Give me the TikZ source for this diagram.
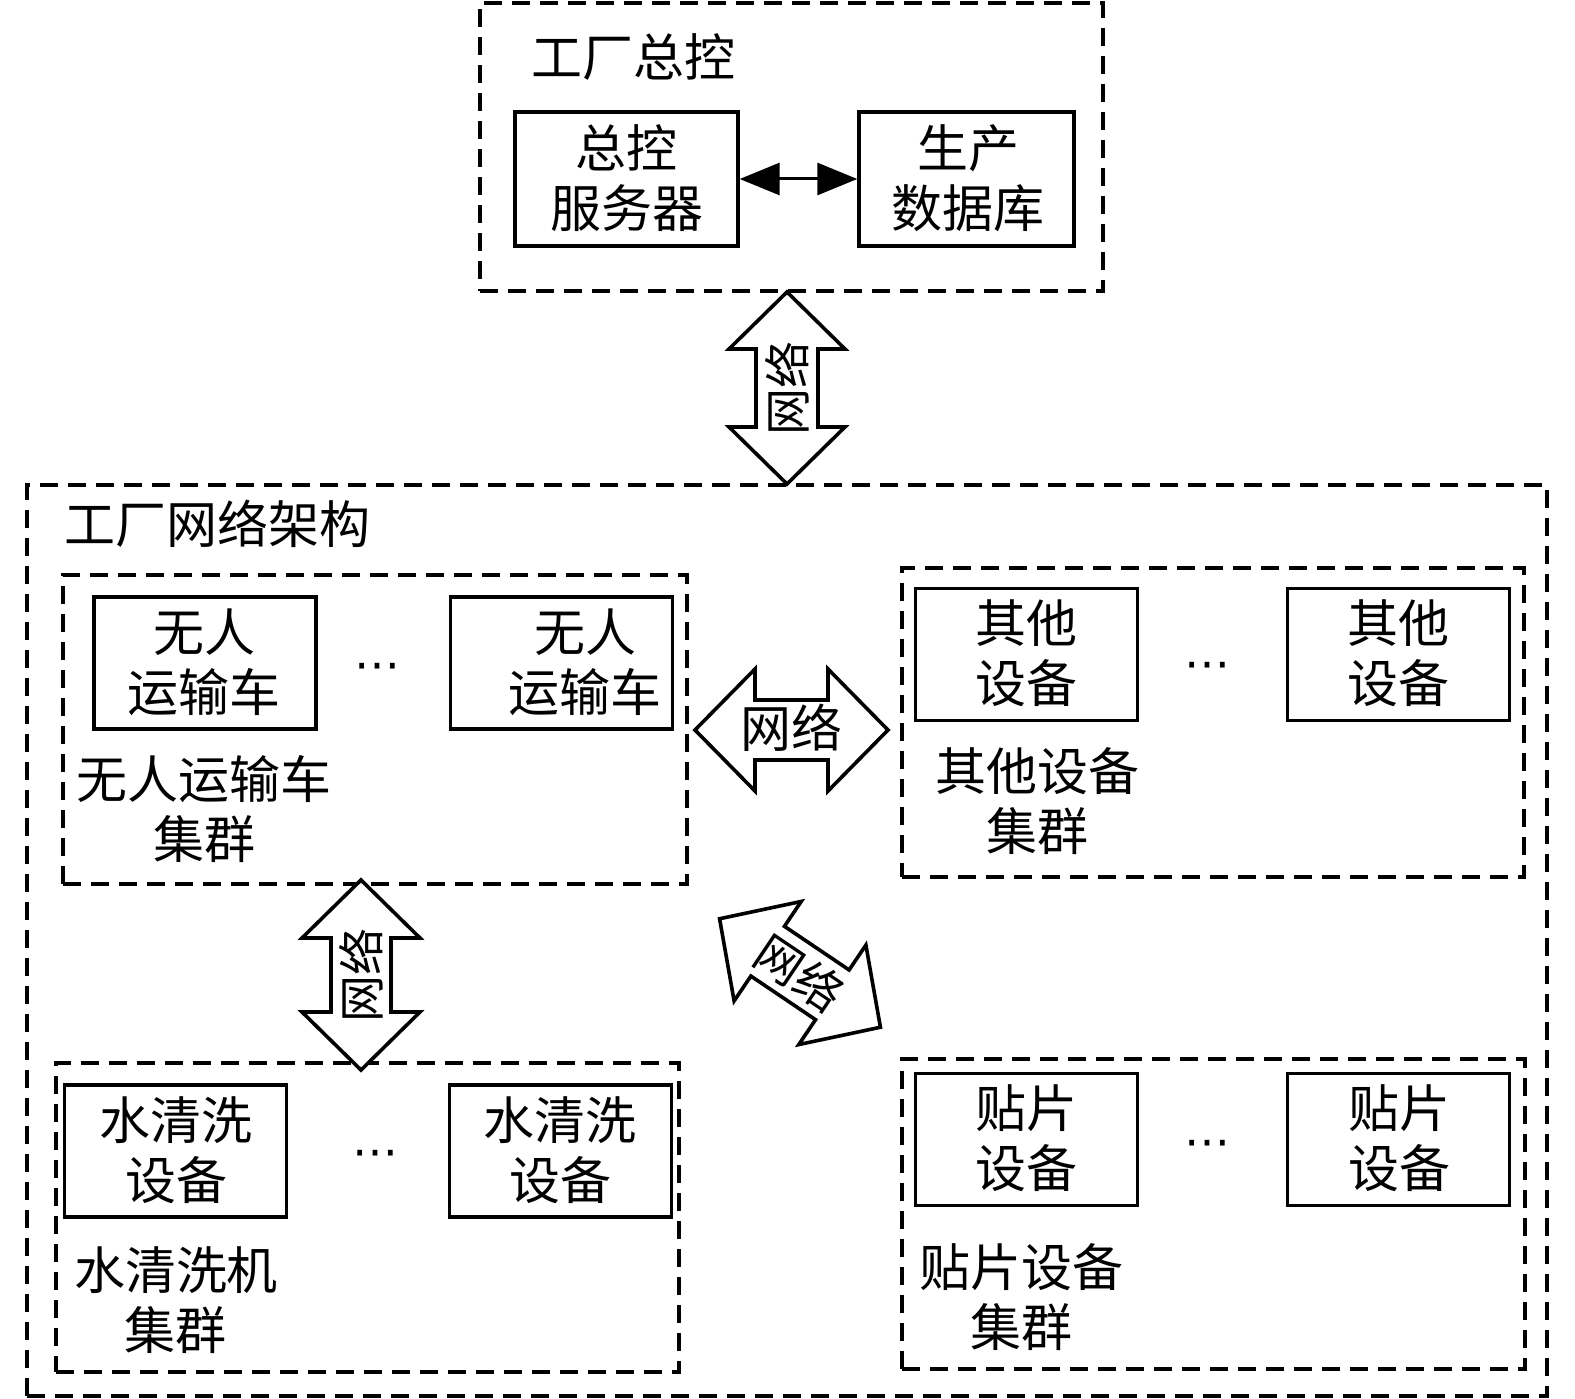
\documentclass[tikz,border=0pt]{standalone}
\usepackage{fontspec}
\setmainfont{Noto Sans CJK SC}
\newfontfamily\symfnt{DejaVu Sans}
\usetikzlibrary{arrows.meta}
\begin{document}
\begin{tikzpicture}[x=1pt,y=-1pt,
  dashbox/.style={draw, line width=3.2pt, dash pattern=on 18pt off 10pt, inner sep=0pt},
  devbox/.style={draw, line width=3.4pt, minimum width=222pt, minimum height=132pt, inner sep=0pt},
  txt/.style={font=\fontsize{51}{60}\selectfont, align=center, inner sep=0pt},
  arrtxt/.style={font=\fontsize{47}{56}\selectfont, align=center, inner sep=0pt},
  dots/.style={font=\symfnt\fontsize{46}{48}\selectfont, inner sep=0pt},
  bigarrow/.style={draw, line width=3.6pt, line join=miter, fill=white},
  pics/dblarrow/.style n args={4}{code={
    \draw[bigarrow] (-#1,0) -- (-#1+#2,-#3) -- (-#1+#2,-#4) -- (#1-#2,-#4) -- (#1-#2,-#3) -- (#1,0)
      -- (#1-#2,#3) -- (#1-#2,#4) -- (-#1+#2,#4) -- (-#1+#2,#3) -- cycle;}},
  ]
\useasboundingbox (0,0) rectangle (1575,1399);

% top frame
\node[dashbox, minimum width=623pt, minimum height=288pt] (topf) at (791.5,147) {};
\node[txt] (toplbl) at (633,57) {工厂总控};
\node[devbox, minimum width=223pt, minimum height=134pt] (srv) at (626.5,179) {};
\node[txt] (srvt) at (626.5,178) {总控\\服务器};
\node[devbox, minimum width=215pt, minimum height=134pt] (db) at (966.5,179) {};
\node[txt] (dbt) at (968,178) {生产\\数据库};
\draw[line width=3pt, {Triangle[length=40pt,width=32pt]}-{Triangle[length=40pt,width=32pt]}] (srv.east) -- (db.west);

% outer frame
\node[dashbox, minimum width=1520pt, minimum height=911pt] (outer) at (787,940.5) {};
\node[txt] (outlbl) at (217,524) {工厂网络架构};

% clusters
\node[dashbox, minimum width=624pt, minimum height=309pt] (ctl) at (375,729.5) {};
\node[dashbox, minimum width=622pt, minimum height=309pt] (ctr) at (1213,722.5) {};
\node[dashbox, minimum width=623pt, minimum height=309pt] (cbl) at (367.5,1217.5) {};
\node[dashbox, minimum width=623pt, minimum height=310pt] (cbr) at (1213.5,1214) {};

% unmanned vehicles
\node[devbox] (uv1) at (205,663) {};
\node[txt] (uv1t) at (204,662) {无人\\运输车};
\node[devbox] (uv2) at (561.5,663) {};
\node[txt] (uv2t) at (585,662) {无人\\运输车};
\node[dots] (d1) at (377,672) {⋯};
\node[txt] (uvl) at (204,809) {无人运输车\\集群};

% other devices
\node[devbox] (ot1) at (1026.5,654.5) {};
\node[txt] (ot1t) at (1026.5,653) {其他\\设备};
\node[devbox] (ot2) at (1398.5,654.5) {};
\node[txt] (ot2t) at (1398.5,653) {其他\\设备};
\node[dots] (d2) at (1207,671) {⋯};
\node[txt] (otl) at (1037,801.5) {其他设备\\集群};

% water cleaning
\node[devbox] (wc1) at (175.5,1151) {};
\node[txt] (wc1t) at (176,1150) {水清洗\\设备};
\node[devbox] (wc2) at (560.5,1151) {};
\node[txt] (wc2t) at (560,1150) {水清洗\\设备};
\node[dots] (d3) at (375,1159) {⋯};
\node[txt] (wcl) at (176,1300) {水清洗机\\集群};

% placement devices
\node[devbox] (tp1) at (1026.5,1139.5) {};
\node[txt] (tp1t) at (1026,1138) {贴片\\设备};
\node[devbox] (tp2) at (1398.5,1139.5) {};
\node[txt] (tp2t) at (1399,1138) {贴片\\设备};
\node[dots] (d4) at (1207,1149) {⋯};
\node[txt] (tpl) at (1021,1297) {贴片设备\\集群};

% big network arrows
\pic[rotate=90] at (787,388) {dblarrow={96}{57}{58}{31}};
\node[arrtxt, rotate=90] (net1) at (787,388) {网络};
\pic at (791.5,730) {dblarrow={96.5}{60}{61}{30}};
\node[txt] (net2) at (791.5,728) {网络};
\pic[rotate=90] at (361,975) {dblarrow={95}{58}{59}{30}};
\node[arrtxt, rotate=90] (net3) at (361,975) {网络};
\pic[rotate=-34] at (800,973) {dblarrow={97}{58}{60}{30}};
\node[arrtxt, rotate=-34] (net4) at (800,973) {网络};
\end{tikzpicture}
\end{document}
